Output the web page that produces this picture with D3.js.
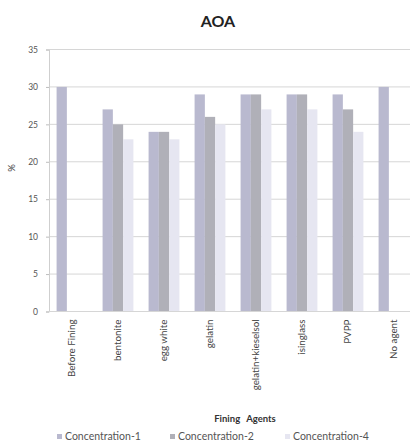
<!DOCTYPE html>
<html>
<head>
<meta charset="utf-8">
<script src="https://cdn.jsdelivr.net/npm/d3@7/dist/d3.min.js"></script>
<style>
  html, body { margin: 0; padding: 0; background: #fff; }
  svg { display: block; font-family: Lato, "Open Sans", sans-serif; }
</style>
</head>
<body>
<svg id="chart" width="410" height="446"></svg>
<script>
// Fining agents and AOA (%) per concentration level
const categories = ["Before Fining", "bentonite", "egg white", "gelatin", "gelatin+kieselsol", "isinglass", "PVPP", "No agent"];
const seriesNames = ["Concentration-1", "Concentration-2", "Concentration-4"];
const conc1 = [30, 27, 24, 29, 29, 29, 29, 30];
const conc2 = [0, 25, 24, 26, 29, 29, 27, 0];
const conc4 = [0, 23, 23, 25, 27, 27, 24, 0];
const yTicks = [0, 5, 10, 15, 20, 25, 30, 35];
const colors = ["#b9b9cf", "#b0b0b8", "#e6e6f1"];

const series = [conc1, conc2, conc4];
const svg = d3.select("#chart");

const margin = { left: 49, right: -7, top: 49.5, bottom: 134.5 };
const W = 410, H = 446;

const x = d3.scaleBand()
  .domain(categories)
  .range([margin.left, W - margin.right])
  .paddingInner(0.33)
  .paddingOuter(0.165);

const xs = d3.scaleBand()
  .domain(seriesNames)
  .range([0, x.bandwidth()]);

const y = d3.scaleLinear()
  .domain([0, 35])
  .range([H - margin.bottom, margin.top]);

// horizontal gridlines
svg.append("g")
  .selectAll("line")
  .data(yTicks.filter(d => d > 0))
  .join("line")
  .attr("x1", margin.left)
  .attr("x2", W)
  .attr("y1", d => y(d))
  .attr("y2", d => y(d))
  .attr("stroke", "#d6d6d6")
  .attr("stroke-width", 1);

// bars
const groups = svg.append("g")
  .selectAll("g")
  .data(categories)
  .join("g")
  .attr("transform", d => `translate(${x(d)},0)`);

groups.selectAll("rect")
  .data((c, i) => seriesNames.map((s, k) => ({ s, k, v: series[k][i] })).filter(d => d.v > 0))
  .join("rect")
  .attr("x", d => xs(d.s))
  .attr("width", xs.bandwidth())
  .attr("y", d => y(d.v))
  .attr("height", d => y(0) - y(d.v))
  .attr("fill", d => colors[d.k]);

// y axis
const yAxis = d3.axisLeft(y)
  .tickValues(yTicks)
  .tickSize(3)
  .tickPadding(8);

const ya = svg.append("g")
  .attr("transform", `translate(${margin.left},0)`)
  .call(yAxis);
ya.select(".domain").attr("stroke", "#cfcfcf");
ya.selectAll(".tick line").attr("stroke", "#bdbdbd");
ya.selectAll(".tick text")
  .attr("fill", "#555")
  .style("font-size", "8.5px")
  .style("font-family", "Lato, sans-serif");

// x axis baseline
svg.append("line")
  .attr("x1", margin.left)
  .attr("x2", W)
  .attr("y1", y(0))
  .attr("y2", y(0))
  .attr("stroke", "#d6d6d6");

// rotated category labels
const xAxis = d3.axisBottom(x).tickSize(0).tickPadding(0);
const xa = svg.append("g")
  .attr("transform", `translate(0,${y(0)})`)
  .call(xAxis);
xa.select(".domain").remove();
xa.selectAll(".tick text")
  .attr("transform", "rotate(-90)")
  .attr("x", -8)
  .attr("y", 0)
  .attr("dy", "0.32em")
  .attr("text-anchor", "end")
  .attr("fill", "#444")
  .style("font-size", "9.8px")
  .style("font-family", "Lato, sans-serif");

// title
svg.append("text")
  .attr("x", 218)
  .attr("y", 27)
  .attr("text-anchor", "middle")
  .attr("font-weight", "bold")
  .attr("font-size", "16px")
  .attr("fill", "#222")
  .text("AOA");

// y axis title
svg.append("text")
  .attr("transform", "translate(15,168) rotate(-90)")
  .attr("text-anchor", "middle")
  .attr("font-size", "9.5px")
  .attr("fill", "#444")
  .text("%");

// x axis title
svg.append("text")
  .attr("x", 245)
  .attr("y", 422)
  .attr("text-anchor", "middle")
  .attr("font-weight", "bold")
  .attr("font-size", "9.5px")
  .attr("fill", "#333")
  .attr("word-spacing", "4px")
  .text("Fining Agents");

// legend
const legendX = [57, 170, 285];
const legend = svg.append("g")
  .selectAll("g")
  .data(seriesNames)
  .join("g")
  .attr("transform", (d, i) => `translate(${legendX[i]},437)`);
legend.append("rect")
  .attr("x", 0)
  .attr("y", -3)
  .attr("width", 5)
  .attr("height", 5)
  .attr("fill", (d, i) => colors[i]);
legend.append("text")
  .attr("x", 8)
  .attr("y", 0)
  .attr("dy", "0.3em")
  .attr("font-size", "10.5px")
  .attr("fill", "#555")
  .text(d => d);
</script>
</body>
</html>
